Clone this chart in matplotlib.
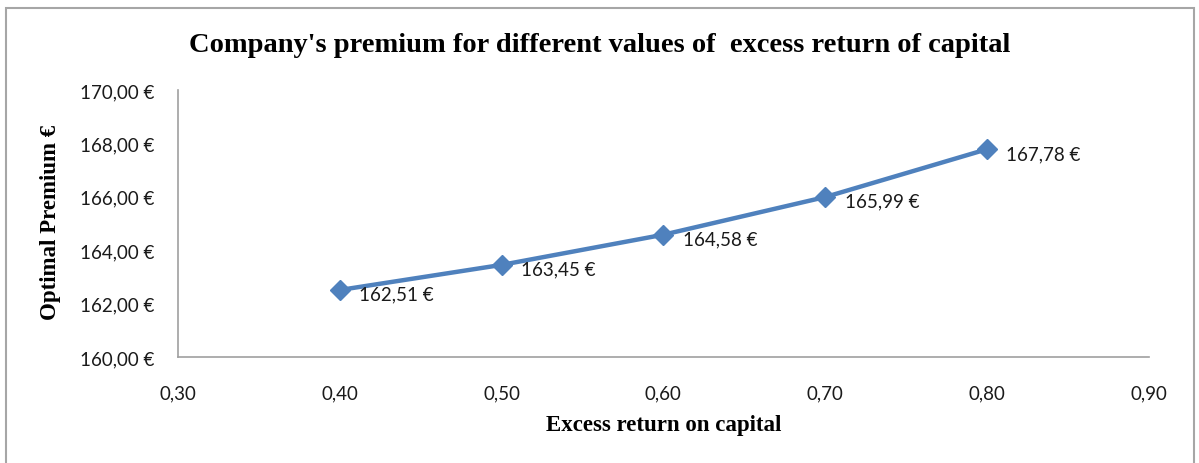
import matplotlib
matplotlib.use('Agg')
import matplotlib.pyplot as plt
from matplotlib.patches import Rectangle

excess_return = [0.40, 0.50, 0.60, 0.70, 0.80]
premium = [162.51, 163.45, 164.58, 165.99, 167.78]
x_ticks = [0.30, 0.40, 0.50, 0.60, 0.70, 0.80, 0.90]
y_ticks = [160, 162, 164, 166, 168, 170]

label_font = ['Lato', 'DejaVu Sans']

def eur(v):
    return '{:.2f}'.format(v).replace('.', ',') + ' €'

fig = plt.figure(figsize=(11.99, 4.64), dpi=100)
ax = fig.add_axes([0.1485, 0.2284, 0.8095, 0.5755])

blue = '#4f81bd'
ax.plot(excess_return, premium, color=blue, lw=3.2, marker='D', ms=10,
        solid_capstyle='round', zorder=3)
for xv, yv in zip(excess_return, premium):
    ax.annotate(eur(yv), (xv, yv), xytext=(14, -3), textcoords='offset points',
                ha='left', va='center', fontsize=13.5, family=label_font,
                color='#1a1a1a')

ax.set_xlim(0.30, 0.90)
ax.set_ylim(160, 170)
ax.set_xticks(x_ticks)
ax.set_xticklabels(['{:.2f}'.format(v).replace('.', ',') for v in x_ticks])
ax.set_yticks(y_ticks)
ax.set_yticklabels([eur(v) for v in y_ticks])
for lab in ax.get_xticklabels() + ax.get_yticklabels():
    lab.set_fontfamily(label_font)
    lab.set_fontsize(13.5)
    lab.set_color('#1a1a1a')
ax.tick_params(length=0)
ax.tick_params(axis='y', pad=17)
ax.tick_params(axis='x', pad=20)
for s in ['top', 'right']:
    ax.spines[s].set_visible(False)
for s in ['left', 'bottom']:
    ax.spines[s].set_color('#a0a0a0')
    ax.spines[s].set_linewidth(1.2)

fig.text(0.5, 0.902, "Company's premium for different values of  excess return of capital",
         ha='center', va='center', fontsize=20.5, fontweight='bold', family='Liberation Serif')
fig.text(0.554, 0.083, 'Excess return on capital', ha='center', va='center',
         fontsize=16.5, fontweight='bold', family='Liberation Serif')
fig.text(0.042, 0.52, 'Optimal Premium €', ha='center', va='center', rotation=90,
         fontsize=16.5, fontweight='bold', family='Liberation Serif')

fig.patches.append(Rectangle((0.005, -0.01), 0.991, 0.99, transform=fig.transFigure,
                             fill=False, edgecolor='#a6a6a6', lw=1.5))

fig.savefig('out.png', dpi=100)
